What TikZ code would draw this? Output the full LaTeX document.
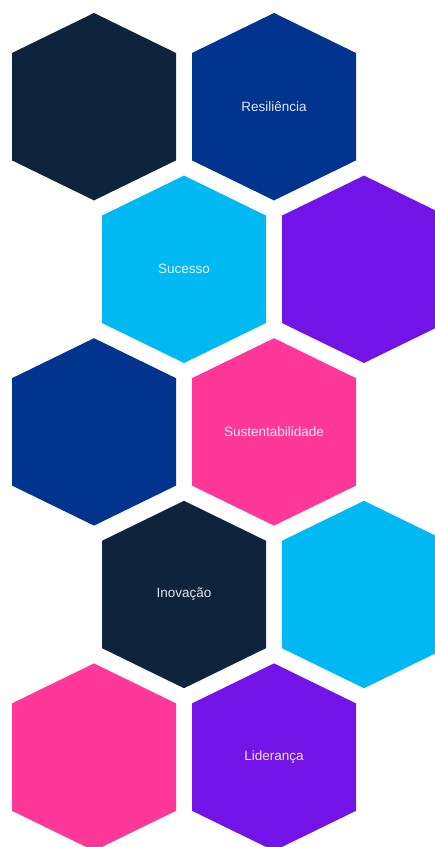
\documentclass[tikz,border=0pt]{standalone}
\usepackage{fontspec}
\setmainfont{Liberation Sans}
\usetikzlibrary{positioning}
\definecolor{navy}{HTML}{0E243C}
\definecolor{royal}{HTML}{00348F}
\definecolor{sky}{HTML}{00B8F2}
\definecolor{violet}{HTML}{7214E8}
\definecolor{rose}{HTML}{FF3799}
\tikzset{x=1pt, y=1pt,
every cell/.style={ % text inside a cell
text=white,
text opacity=0.88,
font=\fontsize{13.5}{16}\selectfont},
}
% one hexagon: centre x, centre y, colour, name, text
\newcommand{\cell}[5]{%
  \fill[#3, shift={(#1,#2)}] (0,93.7) -- (82,53.7) -- (82,-53.7) -- (0,-93.7) -- (-82,-53.7) -- (-82,53.7) -- cycle;
  \node[every cell] (#4) at (#1,#2) {#5};}

\begin{document}
\begin{tikzpicture}
	\useasboundingbox (0,0) rectangle (435,847);
	\begin{scope}
	\clip (0,0) rectangle (435,847);
	% first row
	\cell{94}{740.3}{navy}{h1}{}
	\cell{274}{740.3}{royal}{res}{Resiliência}
	% second row
	\cell{184}{577.7}{sky}{suc}{Sucesso}
	\cell{364}{577.7}{violet}{h2}{}
	% third row
	\cell{94}{415.1}{royal}{h3}{}
	\cell{274}{415.1}{rose}{sus}{Sustentabilidade}
	% fourth row
	\cell{184}{252.5}{navy}{ino}{Inovação}
	\cell{364}{252.5}{sky}{h4}{}
	% fifth row
	\cell{94}{89.9}{rose}{h5}{}
	\cell{274}{89.9}{violet}{lid}{Liderança}
	\end{scope}
\end{tikzpicture}
\end{document}
